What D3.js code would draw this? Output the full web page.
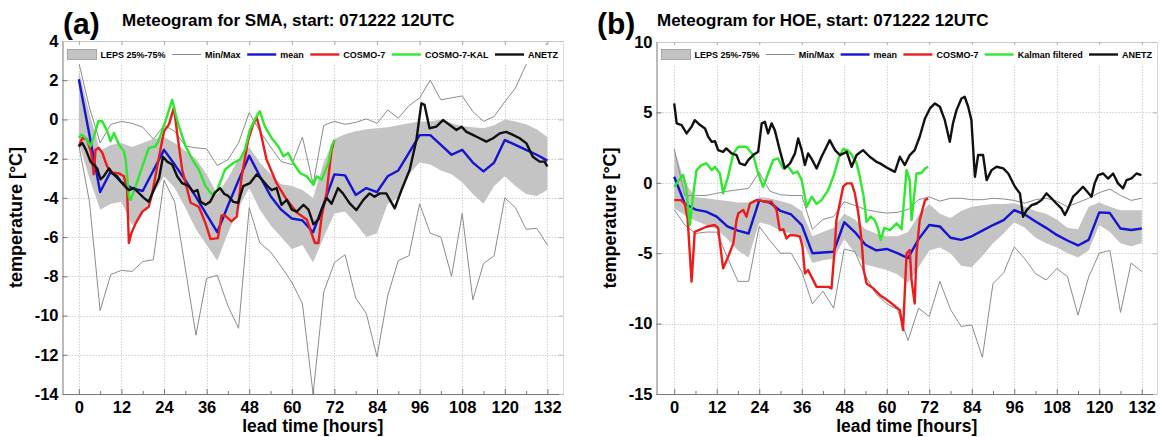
<!DOCTYPE html>
<html>
<head>
<meta charset="utf-8">
<script src="https://cdn.jsdelivr.net/npm/d3@7"></script>
<style>
  body { margin: 0; background: #fff; }
  svg { display: block; font-family: Arial, "Liberation Sans", sans-serif; }
</style>
</head>
<body>
<svg id="chart" width="1161" height="437"></svg>
<script>
// ---------- lead times of the ensemble (every 3 h) ----------
const leadHours = [0,3,6,9,12,15,18,21,24,27,30,33,36,39,42,45,48,51,54,57,60,63,66,69,72,
  75,78,81,84,87,90,93,96,99,102,105,108,111,114,117,120,123,126,129,132];

// ---------- station SMA ----------
const smaMean = [2.05,-0.8,-3.7,-2.65,-3.2,-3.5,-3.65,-2.6,-1.55,-2.3,-3.1,-3.95,-4.85,-5.75,-4.4,-3.1,
  -1.85,-2.9,-3.9,-4.6,-5.05,-5.15,-5.75,-4.3,-2.8,-2.85,-3.85,-3.5,-3.7,-2.9,-2.6,-1.7,-0.8,-0.8,
  -1.3,-1.8,-1.55,-2.2,-2.65,-2.2,-1.05,-1.3,-1.55,-1.8,-2.1];
const smaMax = [2.9,0.6,-1.2,-0.25,-0.1,-0.2,-0.4,-1.0,-0.3,-0.6,-1.35,-1.45,-1.5,-2.35,-2.05,-1.2,
  0.35,-0.6,-1.4,-2.15,-2.3,-0.9,-3.3,-0.3,-0.1,-0.25,-0.15,0.03,-0.2,0.48,0.06,0.7,1.1,2.0,
  1.0,1.1,1.2,0.4,-0.1,0.15,0.9,1.6,2.8,3.3,3.9];
const smaMin = [-1.3,-4.2,-9.75,-7.9,-7.7,-7.75,-7.25,-7.15,-3.1,-4.2,-7.6,-11.0,-8.1,-7.95,-9.5,-10.65,
  -4.5,-6.3,-6.75,-7.5,-8.3,-9.4,-14.0,-8.8,-7.3,-6.9,-9.1,-9.9,-12.1,-9.0,-7.2,-6.95,-4.3,-5.8,
  -6.0,-8.0,-4.8,-9.2,-7.35,-6.95,-4.0,-4.5,-5.6,-5.55,-6.4];
const smaQ75 = [2.5,0.3,-1.6,-1.3,-1.2,-1.4,-1.2,-1.0,-0.9,-1.2,-1.6,-2.0,-2.8,-3.8,-3.0,-2.0,
  -1.4,-2.2,-2.8,-3.3,-3.4,-3.6,-4.0,-2.2,-1.0,-0.75,-0.6,-0.5,-0.45,-0.4,-0.3,-0.2,-0.1,-0.1,
  0.0,-0.2,-0.35,-0.4,-0.45,-0.3,0.0,-0.1,-0.25,-0.5,-0.9];
const smaQ25 = [-1.2,-3.0,-4.6,-4.3,-4.2,-5.4,-4.8,-3.8,-2.9,-3.5,-4.5,-5.6,-6.4,-7.2,-5.8,-4.5,
  -3.5,-4.6,-5.4,-6.0,-6.6,-6.4,-7.3,-6.0,-4.8,-4.7,-5.3,-6.0,-5.8,-4.3,-4.0,-2.8,-2.2,-2.3,
  -2.6,-2.8,-3.2,-3.8,-4.3,-3.4,-2.9,-3.4,-3.8,-3.9,-3.6];

const smaCosmoHours = [0,1,2.3,3.5,4.2,4.7,5.6,6.6,8,9.4,11.3,12.7,13.6,14.1,14.8,16,17.9,19.7,20.7,22.6,
  24,25.4,26.8,27.7,29.1,31.5,33.8,35.7,37.1,39.2,40.2,41.2,43,44.5,45.9,47.7,49.2,50.1,51,52.9,
  55.7,58.6,61.4,64.2,66.5,67.5,68.4,69.8,71.2,72];
const smaCosmo = [-1.37,-0.94,-1.03,-1.7,-2.8,-1.55,-1.45,-1.7,-2.4,-2.7,-2.75,-2.9,-3.6,-6.3,-5.8,-5.3,
  -4.7,-4.45,-3.75,-1.9,-0.6,-0.25,0.6,-0.7,-2.55,-4.25,-4.45,-5.3,-6.1,-6.05,-4.9,-4.9,-5.2,-4.95,
  -2.9,-1.05,-0.2,0.1,-0.5,-2.05,-3.25,-4.1,-4.75,-5.1,-6.3,-6.3,-4.95,-3.75,-1.55,-1.05];

const smaKalHours = [0,0.8,1.9,3.3,4.2,5.5,6.6,8,8.9,9.9,11.3,12.7,13.2,14.1,14.6,16,17.9,19.7,21.6,22.6,
  24.4,26.3,27.3,28.2,30.1,32,33.8,35.7,37.6,39,41.2,43.5,45.4,46.8,48.2,49.6,51,52.4,54.3,56.2,
  57.6,59,60.4,62.3,64.2,66.1,67,68.4,70.3,71.2,72];
const smaKal = [-0.94,-0.77,-0.94,-1.37,-0.9,-0.09,-0.09,-0.6,-1.11,-0.69,-1.28,-1.63,-2.05,-3.92,-4.1,
  -3.41,-2.39,-1.46,-1.37,-1.03,-0.09,1.0,0.25,-0.35,-1.37,-2.05,-2.56,-3.41,-3.84,-3.6,-2.56,-2.22,
  -2.05,-1.54,-0.52,0.0,0.42,-0.35,-0.94,-1.37,-1.88,-1.71,-2.22,-2.73,-2.9,-3.33,-2.9,-3.07,-2.22,
  -1.37,-1.05];

const smaObsHours = [0,1,2,3.3,5.2,6.1,7,8.5,9.4,10.8,11.7,12.7,14.1,15.5,16.9,18.3,19.7,21.1,22.6,23.7,
  24.9,26.3,27.7,29.1,31,32.2,33.4,34.3,35.7,37,38.3,39.8,41,42.1,43.5,44.9,46.3,48.2,50.1,51.5,
  52.9,54.3,55.7,57.1,58.6,60,61.4,63.3,64.7,66.1,67.5,68.4,69.8,71.2,73,74.4,76.3,78.2,80.1,81.9,
  83.3,84.8,86.6,89,90.9,93.2,95.1,96.5,97.4,98.8,100.7,102.6,104.5,106.4,107.8,109.2,111,112.9,
  114.8,116.7,118.6,120.4,122.3,124.2,126.1,127.9,129.8,131.2,132];
const smaObs = [-1.37,-1.2,-1.55,-2.15,-2.5,-3.05,-2.9,-2.5,-2.75,-2.9,-3.15,-3.35,-3.6,-3.5,-3.75,-4.0,
  -4.2,-3.6,-3.0,-1.9,-2.15,-2.3,-2.9,-3.25,-3.4,-3.7,-3.6,-4.2,-4.35,-4.2,-3.75,-3.5,-3.8,-3.9,
  -4.2,-4.25,-3.4,-3.25,-2.8,-3.05,-3.35,-3.6,-3.5,-4.35,-4.1,-4.6,-4.7,-4.35,-4.6,-5.35,-5.1,-4.6,
  -4.0,-4.3,-3.5,-3.77,-4.28,-4.62,-4.11,-3.77,-3.94,-3.77,-3.77,-4.53,-3.6,-2.58,-1.05,0.82,0.74,
  -0.45,-0.37,-0.03,-0.28,-0.54,-0.37,-0.63,-0.79,-0.96,-1.13,-0.96,-0.71,-0.63,-0.79,-0.96,-1.22,
  -1.9,-2.15,-2.15,-2.4];

// ---------- station HOE ----------
const hoeMean = [0.43,-1.5,-1.9,-2.05,-2.4,-3.1,-3.4,-3.6,-1.25,-1.4,-2.0,-2.25,-3.0,-5.0,-4.95,-4.9,
  -2.8,-3.5,-4.4,-4.8,-4.7,-5.0,-5.35,-4.0,-3.0,-3.1,-3.9,-4.05,-3.8,-3.4,-3.0,-2.65,-1.94,-2.25,
  -2.75,-3.2,-3.7,-4.1,-4.45,-4.05,-2.1,-2.15,-3.25,-3.35,-3.25];
const hoeMax = [2.4,-0.9,-0.9,-0.9,-0.75,-0.6,-0.5,-0.4,0.75,-0.6,-0.85,-0.9,-0.9,-3.3,-2.6,-2.4,
  -1.35,-1.6,-1.9,-2.05,-2.15,-2.1,-1.9,-1.2,-1.0,-1.3,-1.1,-1.1,-1.2,-1.2,-1.1,-1.15,-1.25,-1.45,
  -1.2,-1.1,-1.3,-1.7,-1.4,-1.1,-0.7,-0.45,-0.9,-1.25,-1.1];
const hoeMin = [-1.9,-3.0,-3.6,-3.5,-3.5,-5.3,-7.0,-7.0,-3.1,-4.1,-5.0,-5.0,-6.3,-8.6,-7.7,-8.9,
  -4.7,-4.9,-6.6,-7.9,-8.6,-9.0,-11.2,-8.9,-9.5,-7.0,-9.0,-10.2,-10.1,-12.4,-7.15,-6.4,-4.55,-5.4,
  -6.45,-6.9,-6.1,-6.65,-9.4,-6.7,-5.0,-4.8,-9.2,-5.7,-6.3];
const hoeQ75 = [2.4,0.0,-1.0,-1.1,-1.2,-1.3,-1.4,-1.4,-1.0,-1.1,-1.3,-1.5,-2.0,-3.8,-3.5,-3.2,
  -2.2,-2.6,-3.3,-3.6,-3.8,-3.8,-3.5,-2.3,-1.5,-2.2,-2.5,-2.0,-1.7,-1.6,-1.5,-1.5,-1.45,-1.7,
  -2.0,-2.2,-2.6,-3.2,-3.3,-1.7,-1.4,-1.7,-1.95,-1.95,-1.95];
const hoeQ25 = [-1.8,-2.3,-2.7,-3.0,-3.3,-4.0,-4.8,-5.3,-2.8,-3.0,-3.4,-3.6,-4.0,-5.7,-5.5,-5.4,
  -4.0,-5.0,-5.8,-6.0,-6.2,-6.5,-7.1,-6.0,-4.8,-4.6,-5.0,-5.9,-6.0,-5.2,-4.3,-3.6,-2.8,-3.2,
  -3.9,-4.3,-4.6,-5.0,-5.3,-4.8,-3.0,-3.5,-4.3,-4.5,-4.3];

const hoeCosmoHours = [0,1.9,3,3.8,4.9,5.8,9.1,11.5,12.4,13.8,15.2,16.7,17.6,18.1,19.5,20.4,21.4,23.3,26.1,
  27.5,28.9,29.8,30.8,31.7,32.7,34.5,35.5,36.2,36.9,37.8,38.8,40.2,43.5,44.4,45.2,45.8,47.7,48.7,
  50.1,51,52,52.9,53.5,54.3,56.2,58.1,59.5,61.4,63.7,64.6,65.6,66.5,67,67.9,68.4,69.3,70.8,71.7];
const hoeCosmo = [-1.23,-1.23,-1.5,-2.6,-7.03,-3.48,-3.12,-3.0,-3.2,-6.08,-5.26,-4.3,-2.65,-2.17,-1.94,
  -2.41,-1.47,-1.23,-1.35,-1.35,-1.94,-3.36,-3.3,-3.95,-3.71,-3.75,-3.83,-4.5,-6.44,-6.2,-6.7,-7.39,
  -7.39,-7.5,-5.0,-2.65,-0.28,-0.04,-0.04,-0.75,-2.2,-4.07,-6.2,-7.15,-7.5,-7.98,-8.21,-8.57,-9.04,
  -10.46,-5.01,-4.78,-6.91,-8.57,-5.01,-2.65,-1.23,-1.12];

const hoeKalHours = [0,1.4,2.5,3.3,4.4,5.4,6.3,7.7,9.1,10.6,11.5,12.9,13.8,15.2,16.7,18.1,20.4,22.3,23.7,
  25.1,26.5,27.9,29.3,30.8,32,33.6,34.8,36,37.4,38.8,40.2,41.6,43.5,45,46.5,47.7,49,50.1,51.5,52.4,
  53.5,54.3,55.5,56.6,57.5,58.3,59.3,60.9,62.8,64.2,65.6,66.5,67,68.4,69.8,70.8,71.7];
const hoeKal = [-0.28,0.2,0.55,-0.2,-3.0,-0.75,0.9,1.26,1.38,0.9,1.14,0.66,-0.75,0.43,2.09,2.56,2.56,
  1.97,0.66,-0.28,0.66,1.61,1.73,1.02,1.2,0.66,0.8,0.19,-1.7,-0.99,-1.5,-1.23,-0.5,0.5,1.8,2.4,2.3,
  2.0,1.38,0.43,-1.0,-2.77,-2.4,-2.65,-3.2,-4.07,-3.2,-3.36,-2.88,-3.3,0.9,0.19,-2.65,0.66,0.7,1.02,
  1.14];

const hoeObsHours = [0,0.7,2.1,3.5,4.9,5.8,7.3,8.7,9.6,10.6,11.5,12.4,13.8,14.7,16.2,17.6,18.5,20,20.9,
  22.3,23.7,24.7,25.6,26.5,27.5,28.4,29.8,31.2,32.7,34.1,35,36,36.9,37.8,38.8,40.2,41.6,43,43.9,
  45.4,46.8,48.7,50.1,51.5,53.3,55.2,57.1,58.1,60.4,62.3,63.7,65.1,66.5,67.9,69.3,70.8,72.2,73.6,
  75,76.4,77.8,78.7,79.7,81.1,82,83,83.9,84.9,85.8,87.2,88.2,89.6,91,92.9,94.3,96.2,97.6,98.5,
  99.5,100.9,102.3,103.7,105.1,106.5,107.9,109.3,110.3,111.2,112.6,113.6,115.4,116.5,117.8,118.7,
  119.7,121.1,122.5,123.9,125.3,126.7,127.7,129.1,130.5,131.9];
const hoeObs = [5.64,4.22,4.1,3.51,3.98,4.45,4.1,3.86,3.27,2.91,2.95,2.32,2.2,2.44,2.09,1.97,1.38,1.26,
  1.61,1.97,2.2,4.22,4.33,3.51,4.22,3.74,2.32,1.02,1.38,2.09,3.15,2.32,1.26,2.09,1.7,1.02,1.85,
  2.56,3.03,2.32,1.97,2.2,1.14,1.97,2.32,1.85,1.49,1.38,1.02,0.78,1.85,1.26,1.97,2.32,3.27,4.57,
  5.28,5.64,5.4,4.45,2.91,4.22,5.16,5.99,6.11,5.4,4.45,0.43,1.97,1.97,0.19,0.9,1.14,1.02,0.66,
  -0.28,-0.75,-2.41,-1.94,-1.59,-1.47,-1.23,-0.75,-1.1,-1.47,-1.82,-2.29,-1.82,-0.99,-0.75,-0.28,
  -0.6,-0.99,-0.04,0.55,0.66,0.3,0.66,-0.04,-0.4,0.19,0.31,0.66,0.55];

// ---------- axis ticks ----------
const hourTicks = [0,12,24,36,48,60,72,84,96,108,120,132];
const hourMinorTicks = [6,18,30,42,54,66,78,90,102,114,126];
const smaTempTicks = [-14,-12,-10,-8,-6,-4,-2,0,2,4];
const hoeTempTicks = [-15,-10,-5,0,5,10];

// ---------- styles ----------
const COLORS = { band: "#c4c4c4", minmax: "#8c8c8c", mean: "#1414d2", cosmo: "#ec1c1c",
                 kal: "#2ee82e", obs: "#111111" };
const LINE_W = 2.4;

const svg = d3.select("#chart");

function drawPanel(cfg) {
  const x = d3.scaleLinear().domain(cfg.xDomain).range([cfg.left, cfg.right]);
  const y = d3.scaleLinear().domain(cfg.yDomain).range([cfg.bottom, cfg.top]);
  const g = svg.append("g");

  // grid
  const grid = g.append("g").attr("stroke", "#cfcfcf").attr("stroke-width", 1)
    .attr("stroke-dasharray", "1.5,1.5");
  grid.selectAll(".gx").data(hourTicks).join("line")
    .attr("x1", d => Math.round(x(d)) + 0.5).attr("x2", d => Math.round(x(d)) + 0.5)
    .attr("y1", cfg.top).attr("y2", cfg.bottom);
  grid.selectAll(".gy").data(cfg.yTicks).join("line")
    .attr("y1", d => Math.round(y(d)) + 0.5).attr("y2", d => Math.round(y(d)) + 0.5)
    .attr("x1", cfg.left).attr("x2", cfg.right);

  // ensemble interquartile band
  const idx = d3.range(leadHours.length);
  g.append("path").datum(idx)
    .attr("fill", COLORS.band)
    .attr("d", d3.area().x(i => x(leadHours[i])).y0(i => y(cfg.q25[i])).y1(i => y(cfg.q75[i])));

  const line = (hs, vs) => d3.line().x(i => x(hs[i])).y(i => y(vs[i]))(d3.range(hs.length));
  const series = (hs, vs, color, w) => g.append("path").attr("d", line(hs, vs))
    .attr("fill", "none").attr("stroke", color).attr("stroke-width", w)
    .attr("stroke-linejoin", "round");

  series(leadHours, cfg.min, COLORS.minmax, 1);        // ensemble minimum
  series(leadHours, cfg.max, COLORS.minmax, 1);        // ensemble maximum
  series(leadHours, cfg.mean, COLORS.mean, LINE_W);    // ensemble mean
  series(cfg.cosmoHours, cfg.cosmo, COLORS.cosmo, LINE_W);
  series(cfg.kalHours, cfg.kal, COLORS.kal, LINE_W);
  series(cfg.obsHours, cfg.obs, COLORS.obs, LINE_W);   // station observations

  // axes
  const plain = d => String(d);
  const axStyle = sel => {
    sel.select(".domain").attr("stroke", "#777");
    sel.selectAll(".tick line").attr("stroke", "#777");
    sel.selectAll(".tick text").attr("fill", "#000").attr("font-size", 16.5)
      .attr("font-weight", "bold").attr("font-family", "Arial, 'Liberation Sans', sans-serif");
  };
  g.append("g").attr("transform", `translate(0,${cfg.bottom})`)
    .call(d3.axisBottom(x).tickValues(hourTicks).tickFormat(plain)
      .tickSize(-5).tickSizeOuter(0).tickPadding(7))
    .call(axStyle);
  g.append("g").attr("transform", `translate(0,${cfg.bottom})`)
    .call(d3.axisBottom(x).tickValues(hourMinorTicks).tickSize(-3).tickSizeOuter(0).tickFormat(""))
    .call(s => { s.select(".domain").remove(); s.selectAll(".tick line").attr("stroke", "#777"); });
  g.append("g").attr("transform", `translate(${cfg.left},0)`)
    .call(d3.axisLeft(y).tickValues(cfg.yTicks).tickFormat(plain)
      .tickSize(-5).tickSizeOuter(0).tickPadding(4))
    .call(axStyle);
  g.append("g").attr("transform", `translate(0,${cfg.top})`)
    .call(d3.axisTop(x).tickValues(hourTicks).tickSize(-4).tickSizeOuter(0).tickFormat(""))
    .call(s => { s.select(".domain").attr("stroke", "#c8c8c8"); s.selectAll(".tick line").attr("stroke", "#aaa"); });
  g.append("g").attr("transform", `translate(${cfg.right},0)`)
    .call(d3.axisRight(y).tickValues(cfg.yTicks).tickSize(-4).tickSizeOuter(0).tickFormat(""))
    .call(s => { s.select(".domain").attr("stroke", "#d8d8d8"); s.selectAll(".tick line").attr("stroke", "#bbb"); });

  // axis titles
  g.append("text").attr("x", (cfg.left + cfg.right) / 2).attr("y", 432)
    .attr("text-anchor", "middle").attr("font-size", 17.5).attr("font-weight", "bold")
    .text("lead time [hours]");
  g.append("text")
    .attr("transform", `translate(${cfg.yLabelX},${(cfg.top + cfg.bottom) / 2}) rotate(-90)`)
    .attr("text-anchor", "middle").attr("font-size", 18).attr("font-weight", "bold")
    .text("temperature [°C]");

  // panel letter and title
  g.append("text").attr("x", cfg.letterX).attr("y", 34).attr("font-size", 30)
    .attr("font-weight", "bold").text(cfg.letter);
  g.append("text").attr("x", cfg.titleX).attr("y", 26).attr("font-size", 17)
    .attr("font-weight", "bold").text(cfg.title);

  // legend row
  const lg = g.append("g");
  lg.append("rect").attr("x", cfg.left + 2).attr("y", 45).attr("width", cfg.right - cfg.left - 4)
    .attr("height", 19).attr("fill", "#fff");
  const items = [
    { kind: "box", label: "LEPS 25%-75%" },
    { kind: "line", color: COLORS.minmax, w: 1, label: "Min/Max" },
    { kind: "line", color: COLORS.mean, w: LINE_W, label: "mean" },
    { kind: "line", color: COLORS.cosmo, w: LINE_W, label: "COSMO-7" },
    { kind: "line", color: COLORS.kal, w: LINE_W, label: cfg.kalLabel },
    { kind: "line", color: COLORS.obs, w: LINE_W, label: "ANETZ" }
  ];
  const sw = 29, gap = 4, pad = 5, ly = 54.5;
  const texts = items.map(it => lg.append("text").attr("font-size", 9).attr("font-weight", "bold")
    .attr("y", ly + 3).text(it.label));
  const widths = texts.map(t => t.node().getComputedTextLength());
  const used = d3.sum(widths) + items.length * (sw + gap);
  const spacing = (cfg.right - cfg.left - 2 * pad - used) / (items.length - 1);
  let cx = cfg.left + pad;
  items.forEach((it, i) => {
    if (it.kind === "box") {
      lg.append("rect").attr("x", cx).attr("y", ly - 5).attr("width", sw).attr("height", 10)
        .attr("fill", COLORS.band).attr("stroke", "#999").attr("stroke-width", 0.8);
    } else {
      lg.append("line").attr("x1", cx).attr("x2", cx + sw).attr("y1", ly).attr("y2", ly)
        .attr("stroke", it.color).attr("stroke-width", it.w);
    }
    texts[i].attr("x", cx + sw + gap);
    cx += sw + gap + widths[i] + spacing;
  });
}

drawPanel({
  left: 62.5, right: 563, top: 41, bottom: 394,
  xDomain: [-4.6, 136.4], yDomain: [-14, 4], yTicks: smaTempTicks,
  mean: smaMean, min: smaMin, max: smaMax, q25: smaQ25, q75: smaQ75,
  cosmoHours: smaCosmoHours, cosmo: smaCosmo, kalHours: smaKalHours, kal: smaKal,
  obsHours: smaObsHours, obs: smaObs,
  kalLabel: "COSMO-7-KAL", letter: "(a)", letterX: 63, titleX: 122, yLabelX: 22,
  title: "Meteogram for SMA, start: 071222 12UTC"
});
drawPanel({
  left: 656.5, right: 1157, top: 42, bottom: 394,
  xDomain: [-5, 136.3], yDomain: [-15, 10], yTicks: hoeTempTicks,
  mean: hoeMean, min: hoeMin, max: hoeMax, q25: hoeQ25, q75: hoeQ75,
  cosmoHours: hoeCosmoHours, cosmo: hoeCosmo, kalHours: hoeKalHours, kal: hoeKal,
  obsHours: hoeObsHours, obs: hoeObs,
  kalLabel: "Kalman filtered", letter: "(b)", letterX: 597, titleX: 657, yLabelX: 616,
  title: "Meteogram for HOE, start: 071222 12UTC"
});
</script>
</body>
</html>
